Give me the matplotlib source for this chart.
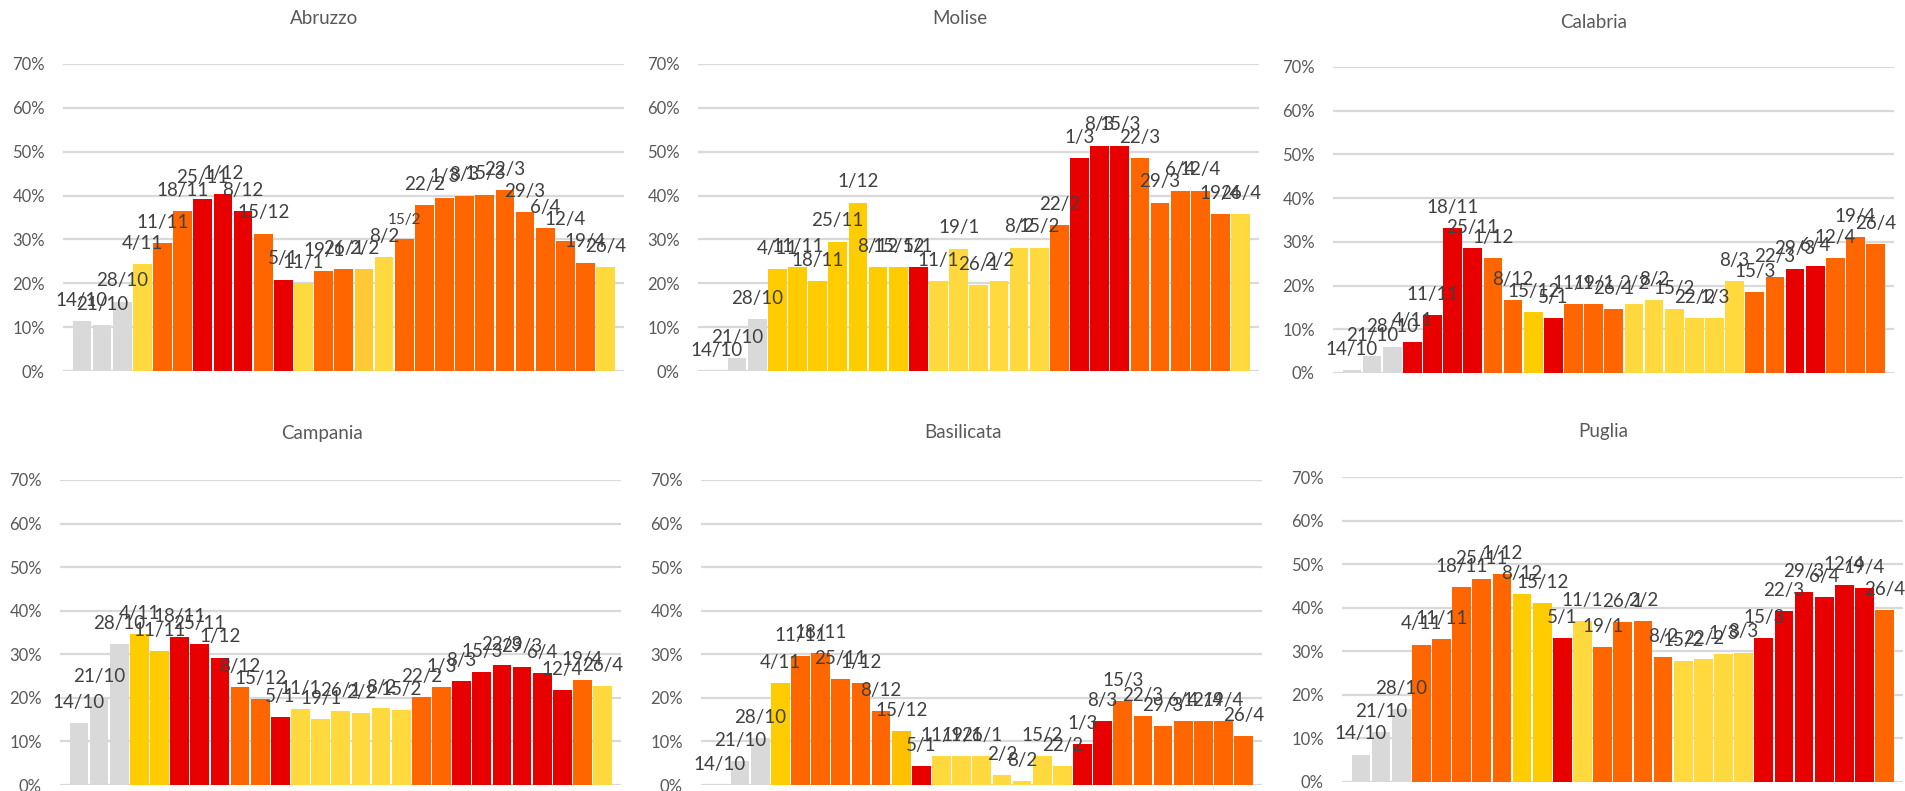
import matplotlib
matplotlib.use("Agg")
import matplotlib.pyplot as plt
from matplotlib.ticker import PercentFormatter

plt.rcParams['font.family'] = ['Lato', 'DejaVu Sans']

dates = ["14/10", "21/10", "28/10", "4/11", "11/11", "18/11", "25/11", "1/12", "8/12",
         "15/12", "5/1", "11/1", "19/1", "26/1", "2/2", "8/2", "15/2", "22/2", "1/3",
         "8/3", "15/3", "22/3", "29/3", "6/4", "12/4", "19/4", "26/4"]

regions = ["Abruzzo", "Molise", "Calabria", "Campania", "Basilicata", "Puglia"]

abruzzo = [11.4, 10.5, 15.8, 24.4, 29.2, 36.5, 39.3, 40.4, 36.5, 31.3, 20.8, 20.1, 22.8, 23.3,
           23.3, 26.0, 30.1, 37.9, 39.5, 40.0, 40.2, 41.3, 36.3, 32.6, 29.7, 24.7, 23.7]
molise = [0.0, 3.0, 11.9, 23.3, 23.7, 20.5, 29.5, 38.4, 23.7, 23.7, 23.7, 20.5, 27.9, 19.6,
          20.5, 28.1, 28.1, 33.3, 48.6, 51.4, 51.4, 48.6, 38.4, 41.1, 41.1, 35.8, 35.8]
calabria = [0.6, 3.8, 5.9, 7.2, 13.2, 33.1, 28.5, 26.2, 16.6, 13.9, 12.5, 15.7, 15.7, 14.6,
            15.7, 16.6, 14.6, 12.5, 12.5, 21.0, 18.5, 21.9, 23.7, 24.4, 26.2, 31.0, 29.4]
campania = [14.2, 20.2, 32.4, 34.7, 30.8, 34.0, 32.4, 29.2, 22.5, 19.7, 15.6, 17.4, 15.1, 17.0,
            16.5, 17.7, 17.2, 20.2, 22.5, 23.9, 25.9, 27.5, 27.1, 25.7, 21.8, 24.1, 22.7]
basilicata = [0.0, 5.5, 10.8, 23.4, 29.6, 30.3, 24.3, 23.4, 17.0, 12.4, 4.4, 6.7, 6.7, 6.7,
              2.3, 0.9, 6.7, 4.4, 9.4, 14.7, 19.3, 15.8, 13.5, 14.7, 14.7, 14.7, 11.2]
puglia = [6.3, 11.5, 16.8, 31.5, 32.8, 44.7, 46.6, 47.7, 43.1, 41.1, 33.1, 36.9, 31.0, 36.7,
          36.9, 28.7, 27.8, 28.2, 29.4, 29.7, 33.1, 39.2, 43.6, 42.4, 45.2, 44.5, 39.5]

# zone codes: G grey, Y yellow, L light yellow, A amber, M mid yellow, O orange, R red
zones_abruzzo = "GGGLOORRRORLOOMLOOOOOOOOOOL"
zones_molise = "GGGYYYYYYYRLLLLLLORRROOOOOL"
zones_calabria = "GGGRRRROOYROOOLLLLLLOORROOO"
zones_campania = "GGGYYRRROORLLLLLLOORRRRRROL"
zones_basilicata = "GGGYOOOOOARLLLLLLLRROOOOOOO"
zones_puglia = "GGGOOOOOYYRLOOOOLLLLRRRRRRO"

series = [abruzzo, molise, calabria, campania, basilicata, puglia]
zones = [zones_abruzzo, zones_molise, zones_calabria, zones_campania, zones_basilicata, zones_puglia]

palette = {"G": "#D9D9D9", "Y": "#FFCC00", "L": "#FFD93D", "A": "#FFC000",
           "M": "#FFC933", "O": "#FF6600", "R": "#E80000"}

W, H = 1905, 791
fig = plt.figure(figsize=(W / 100, H / 100), dpi=100)

# axes boxes in pixels: left, right, top, bottom
boxes = [(63, 624, 64, 371), (698, 1259, 64, 371), (1333, 1894, 67, 373),
         (60, 621, 480, 785), (701, 1262, 480, 785), (1342, 1903, 477, 782)]
title_pos = [(324, 19), (960, 18), (1594, 22), (322, 433), (963, 433), (1603, 432)]

for name, vals, zc, box, tp in zip(regions, series, zones, boxes, title_pos):
    l, r, t, b = box
    ax = fig.add_axes([l / W, 1 - b / H, (r - l) / W, (b - t) / H])
    x = list(range(len(dates)))
    v = [val / 100 for val in vals]
    ax.bar(x, v, width=0.93, color=[palette[c] for c in zc], zorder=2)
    for xi, vi, d in zip(x, v, dates):
        small = (name == "Abruzzo" and d == "15/2")
        ax.annotate(d, (xi, vi), xytext=(0, 11), textcoords="offset points",
                    ha="center", va="baseline", fontsize=11 if small else 13.5,
                    color="#404040", zorder=3)
    ax.set_xlim(-0.94, 26.91)
    ax.set_ylim(0, 0.70)
    ax.set_yticks([i / 10 for i in range(8)])
    ax.yaxis.set_major_formatter(PercentFormatter(1.0, decimals=0))
    ax.set_xticks([])
    ax.tick_params(axis="y", length=0, pad=13, labelsize=12, labelcolor="#595959")
    for s in ax.spines.values():
        s.set_visible(False)
    ax.grid(axis="y", color="#D9D9D9", linewidth=1.6, zorder=0)
    ax.set_axisbelow(True)
    fig.text(tp[0] / W, 1 - tp[1] / H, name, ha="center", va="center",
             fontsize=13.5, color="#595959")

fig.savefig("out.png", dpi=100)
